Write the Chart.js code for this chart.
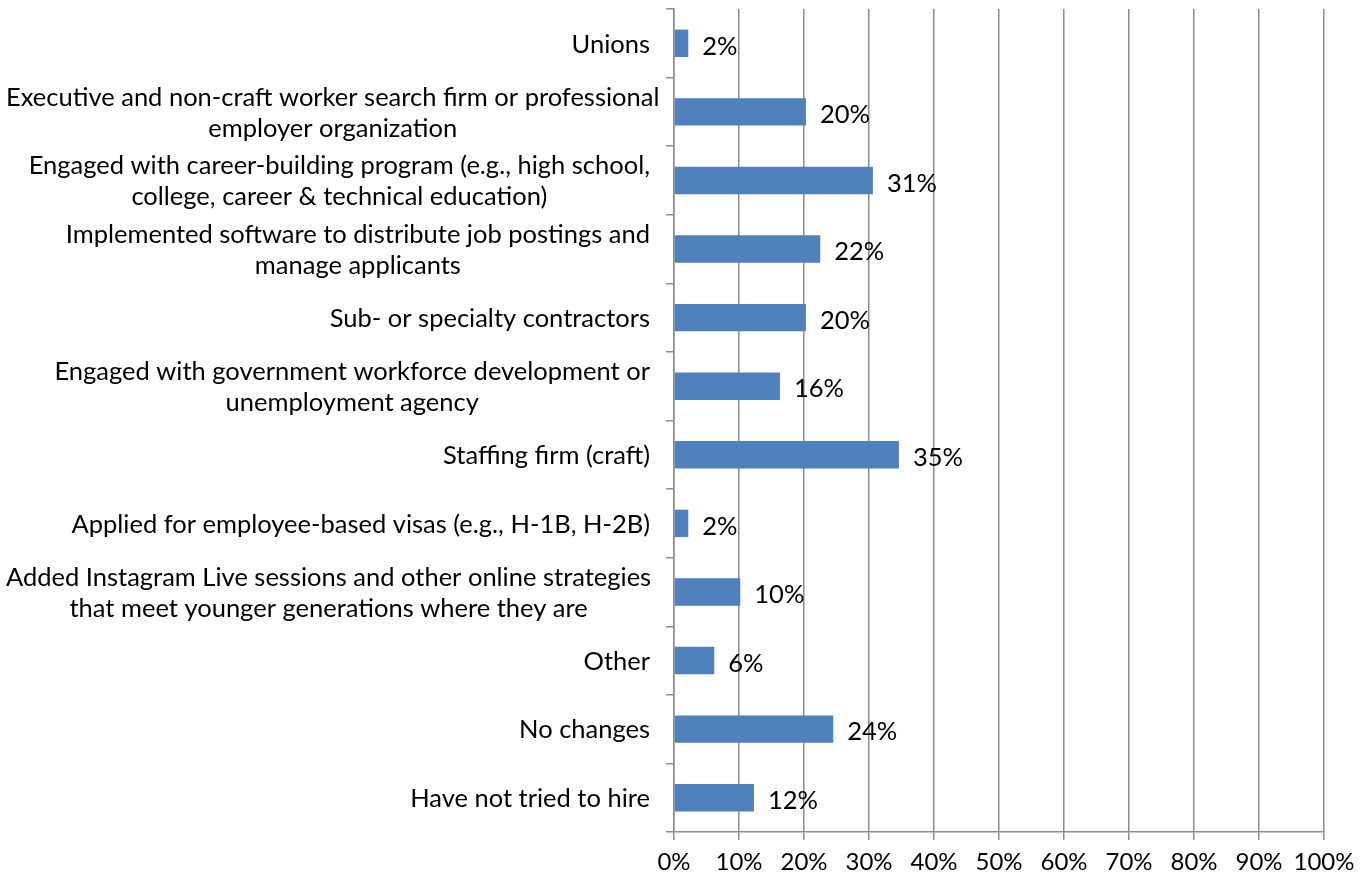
<!DOCTYPE html>
<html>
<head>
<meta charset="utf-8">
<script src="https://cdn.jsdelivr.net/npm/chart.js@4/dist/chart.umd.min.js"></script>
<style>
  html, body { margin: 0; padding: 0; background: #fff; }
  #wrap { width: 1370px; height: 880px; position: relative; }
</style>
</head>
<body>
<div id="wrap"><canvas id="c"></canvas></div>
<script>
// ── DATA ──────────────────────────────────────────────
const categories = [
  ['Unions'],
  ['Executive and non-craft worker search firm or professional', 'employer organization'],
  ['Engaged with career-building program (e.g., high school,', 'college, career & technical education)'],
  ['Implemented software to distribute job postings and', 'manage applicants'],
  ['Sub- or specialty contractors'],
  ['Engaged with government workforce development or', 'unemployment agency'],
  ['Staffing firm (craft)'],
  ['Applied for employee-based visas (e.g., H-1B, H-2B)'],
  ['Added Instagram Live sessions and other online strategies', 'that meet younger generations where they are'],
  ['Other'],
  ['No changes'],
  ['Have not tried to hire'],
];
const values      = [2.2, 20.3, 30.6, 22.5, 20.3, 16.3, 34.6, 2.2, 10.2, 6.2, 24.5, 12.3];
const valueLabels = ['2%', '20%', '31%', '22%', '20%', '16%', '35%', '2%', '10%', '6%', '24%', '12%'];
const xTicks      = [0, 10, 20, 30, 40, 50, 60, 70, 80, 90, 100];

const FONT = 'Lato, "Open Sans", sans-serif';
const FS = 25.5;
const GRID = '#8c8c8c';

// ── PLUGINS ───────────────────────────────────────────
// value labels right of each bar
const valueLabelPlugin = {
  id: 'valueLabels',
  afterDatasetsDraw(chart) {
    const { ctx } = chart;
    const meta = chart.getDatasetMeta(0);
    ctx.save();
    ctx.font = `${FS}px ${FONT}`;
    ctx.fillStyle = '#000';
    ctx.textAlign = 'left';
    ctx.textBaseline = 'middle';
    meta.data.forEach((bar, i) => ctx.fillText(valueLabels[i], bar.x + 14, bar.y + 3));
    ctx.restore();
  },
};

// category labels: lines centred on each other, block right-aligned to the axis
const catLabelPlugin = {
  id: 'catLabels',
  afterDraw(chart) {
    const { ctx } = chart;
    const y = chart.scales.y;
    const right = y.right - 24;
    const lh = 31;
    ctx.save();
    ctx.font = `${FS}px ${FONT}`;
    ctx.fillStyle = '#000';
    ctx.textAlign = 'center';
    ctx.textBaseline = 'middle';
    categories.forEach((lines, i) => {
      const w = Math.max(...lines.map(l => ctx.measureText(l).width));
      const cx = Math.max(right - w / 2, w / 2 + 6);
      const cy = y.getPixelForValue(i) + 1;
      const top = cy - (lines.length - 1) * lh / 2;
      lines.forEach((l, k) => ctx.fillText(l, cx, top + k * lh));
    });
    ctx.restore();
  },
};

// ── CHART ─────────────────────────────────────────────
new Chart(document.getElementById('c'), {
  type: 'bar',
  data: {
    labels: categories,
    datasets: [{
      data: values,
      backgroundColor: '#4F81BD',
      borderWidth: 0,
      barPercentage: 0.8,
      categoryPercentage: 0.5,
    }],
  },
  options: {
    indexAxis: 'y',
    responsive: true,
    maintainAspectRatio: false,
    animation: false,
    layout: { padding: { top: 9, right: 46, left: 0, bottom: 0 } },
    plugins: { legend: { display: false }, tooltip: { enabled: false } },
    scales: {
      x: {
        min: 0, max: 100,
        afterBuildTicks: s => { s.ticks = xTicks.map(v => ({ value: v })); },
        afterFit: s => { s.height = 48; },
        ticks: {
          color: '#000', font: { family: FONT, size: 24 }, padding: 8,
          autoSkip: false, maxRotation: 0, callback: v => v + '%',
        },
        grid: { color: GRID, lineWidth: 1.5, tickLength: 8 },
        border: { color: GRID, width: 1.5 },
      },
      y: {
        afterFit: s => { s.width = 674; },
        ticks: { color: 'transparent', font: { size: 1 } },
        grid: { drawOnChartArea: false, color: GRID, lineWidth: 1.5, tickLength: 8 },
        border: { color: GRID, width: 1.5 },
      },
    },
  },
  plugins: [valueLabelPlugin, catLabelPlugin],
});
</script>
</body>
</html>
